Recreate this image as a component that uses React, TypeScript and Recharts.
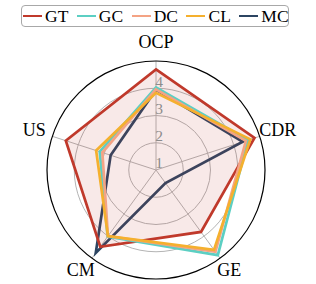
import React from 'react';
import { RadarChart, Radar, PolarGrid, PolarAngleAxis, PolarRadiusAxis, Legend } from 'recharts';

const categories = ['OCP', 'CDR', 'GE', 'CM', 'US'];
const gtValues = [3.69, 3.8, 2.81, 3.48, 3.48];
const gcValues = [3.03, 3.55, 3.86, 3.02, 2.17];
const dcValues = [2.96, 3.47, 3.71, 3.0, 2.07];
const clValues = [2.83, 3.64, 3.62, 3.0, 2.31];
const mcValues = [2.95, 3.35, 0.59, 3.76, 1.75];
const radiusTicks = [0, 1, 2, 3, 4];
const seriesNames = ['GT', 'GC', 'DC', 'CL', 'MC'];
const seriesValues = [gtValues, gcValues, dcValues, clValues, mcValues];
const seriesColors = ['#c0392b', '#5ccfc3', '#f4a384', '#f5b02e', '#2c4562'];
const drawOrder = ['MC', 'GT', 'GC', 'DC', 'CL'];

const data = categories.map((c, i) => {
  const row: Record<string, any> = { axis: c };
  seriesNames.forEach((s, k) => { row[s] = seriesValues[k][i]; });
  return row;
});

const W = 316, H = 284, CX = 156, CY = 170, OUTER = 109;
const FONT = "'Liberation Serif', 'Times New Roman', serif";
const rMax = radiusTicks[radiusTicks.length - 1];

const AngleTick = (props: any) => {
  const { x, y, payload } = props;
  const cx = props.cx ?? CX;
  const cy = props.cy ?? CY;
  const dx = x - cx, dy = y - cy;
  const d = Math.hypot(dx, dy) || 1;
  const R = 128;
  const ux = dx / d, uy = dy / d;
  const tx = cx + ux * R - (ux > 0 && uy > 0.5 ? 2 : 0);
  const ty = cy + uy * R - (uy > 0.5 ? 4 : 0);
  return (
    <text x={tx} y={ty} textAnchor="middle" dominantBaseline="central"
      style={{ fontFamily: FONT, fontSize: 18 }} fill="#000">{payload.value}</text>
  );
};

const RadiusTick = (props: any) => {
  const { x, y, payload } = props;
  if (!payload || payload.value === 0) return null;
  return (
    <text x={x + 3} y={y + 20} textAnchor="middle" dominantBaseline="central"
      style={{ fontFamily: FONT, fontSize: 15.5 }} fill="#8c8c8c">{payload.value}</text>
  );
};

const LegendContent = () => (
  <div style={{
    boxSizing: 'border-box', width: 268, height: 22, border: '1px solid #a8a8a8', borderRadius: 4,
    background: '#fff', display: 'flex', alignItems: 'center', paddingLeft: 1, fontFamily: FONT, fontSize: 17.5,
  }}>
    {seriesNames.map((s, k) => (
      <div key={s} style={{ display: 'flex', alignItems: 'center', marginRight: k < seriesNames.length - 1 ? 8.5 : 0 }}>
        <div style={{ width: 19, height: 2.6, background: seriesColors[k], marginRight: 3 }} />
        <span style={{ lineHeight: '18px', color: '#000' }}>{s}</span>
      </div>
    ))}
  </div>
);

export default function App() {
  return (
    <div style={{ position: 'absolute', left: 0, top: 0, width: W, height: H, background: '#fff', fontFamily: FONT }}>
      <RadarChart width={W} height={H} data={data} cx={CX} cy={CY} outerRadius={OUTER}
        margin={{ top: 0, right: 0, bottom: 0, left: 0 }}>
        <PolarGrid gridType="circle" stroke="#b4b4b4" strokeWidth={1}
          polarRadius={radiusTicks.slice(1, -1).map(v => (v / rMax) * OUTER)} />
        <PolarGrid gridType="circle" stroke="#000" strokeWidth={1.2} radialLines={false}
          polarRadius={[OUTER]} />
        <PolarAngleAxis dataKey="axis" tick={<AngleTick />} tickLine={false} axisLine={false} />
        <PolarRadiusAxis angle={90} domain={[0, rMax]} ticks={radiusTicks as any} tick={<RadiusTick />}
          axisLine={false} tickLine={false} />
        {drawOrder.map(s => {
          const k = seriesNames.indexOf(s);
          return (
            <Radar key={s} name={s} dataKey={s} stroke={seriesColors[k]} strokeWidth={2.7}
              strokeLinejoin="miter" fill={seriesColors[k]} fillOpacity={s === 'GT' ? 0.11 : 0}
              dot={false} isAnimationActive={false} />
          );
        })}
        <Legend layout="horizontal" verticalAlign="middle" align="center" content={<LegendContent />}
          wrapperStyle={{ left: 21, top: 5, width: 268, height: 22 }} />
      </RadarChart>
    </div>
  );
}
